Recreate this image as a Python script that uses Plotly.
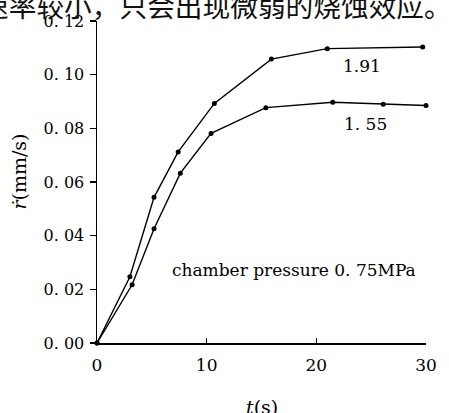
import plotly.graph_objects as go

# Data
t_191 = [0, 3.0, 5.2, 7.4, 10.7, 15.9, 21.0, 29.7]
r_191 = [0, 0.0247, 0.0543, 0.0712, 0.0893, 0.1058, 0.1097, 0.1103]
t_155 = [0, 3.2, 5.2, 7.6, 10.4, 15.4, 21.5, 26.1, 30.0]
r_155 = [0, 0.0217, 0.0426, 0.0633, 0.0781, 0.0877, 0.0897, 0.0890, 0.0885]

x_ticks = [0, 10, 20, 30]
x_ticktext = ["0", "10", "20", "30"]
y_ticks = [0, 0.02, 0.04, 0.06, 0.08, 0.10, 0.12]
y_ticktext = ["0. 00", "0. 02", "0. 04", "0. 06", "0. 08", "0. 10", "0. 12"]

W, H = 449, 413
L, R, T, B = 97, 21, 17, 70
PW, PH = W - L - R, H - T - B

def px(xp):
    return (xp - L) / PW

def py(yp):
    return (H - B - yp) / PH

serif = "DejaVu Serif"

fig = go.Figure()
for tx, ry in [(t_191, r_191), (t_155, r_155)]:
    fig.add_trace(go.Scatter(
        x=tx, y=ry, mode="lines+markers",
        line=dict(color="black", width=1.4),
        marker=dict(color="black", size=5),
        showlegend=False, cliponaxis=False,
    ))

fig.update_layout(
    width=W, height=H,
    margin=dict(l=L, r=R, t=T, b=B),
    paper_bgcolor="white", plot_bgcolor="white",
    font=dict(family=serif, color="black", size=16),
    xaxis=dict(
        range=[0, 30], tickvals=x_ticks, ticktext=x_ticktext,
        showline=True, linecolor="black", linewidth=1.5,
        ticks="inside", ticklen=5, tickcolor="black", tickwidth=1.3,
        showgrid=False, zeroline=False,
        tickfont=dict(family=serif, size=17), ticklabelstandoff=6,
    ),
    yaxis=dict(
        range=[0, 0.12], tickvals=y_ticks, ticktext=y_ticktext,
        showline=True, linecolor="black", linewidth=1.5,
        ticks="outside", ticklen=6, tickcolor="black", tickwidth=1.3,
        showgrid=False, zeroline=False,
        tickfont=dict(family=serif, size=16), ticklabelstandoff=2,
    ),
)

ann = [
    dict(text="1.91", x=px(364), y=py(63), size=17),
    dict(text="1. 55", x=px(367), y=py(121), size=17),
    dict(text="chamber pressure 0. 75MPa", x=px(295.5), y=py(269), size=17),
    dict(text="<i>t</i>(s)", x=px(263), y=py(408), size=19),
]
for a in ann:
    fig.add_annotation(
        text=a["text"], x=a["x"], y=a["y"], xref="paper", yref="paper",
        showarrow=False, xanchor="center", yanchor="middle",
        font=dict(family=serif, size=a["size"], color="black"),
    )

fig.add_annotation(
    text="<i>ṙ</i>(mm/s)", x=px(19), y=py(169), xref="paper", yref="paper",
    showarrow=False, textangle=-90, xanchor="center", yanchor="middle",
    font=dict(family=serif, size=19, color="black"),
)

fig.add_annotation(
    text="速率较小，只会出现微弱的烧蚀效应。", x=px(-22), y=py(1), xref="paper", yref="paper",
    showarrow=False, xanchor="left", yanchor="middle",
    font=dict(family="Noto Sans CJK SC", size=27.7, color="#111"),
)

fig.write_html(
    "out.html",
    config={"displayModeBar": False, "staticPlot": True},
    post_script="document.body.style.margin='0';document.body.style.overflow='hidden';",
)
